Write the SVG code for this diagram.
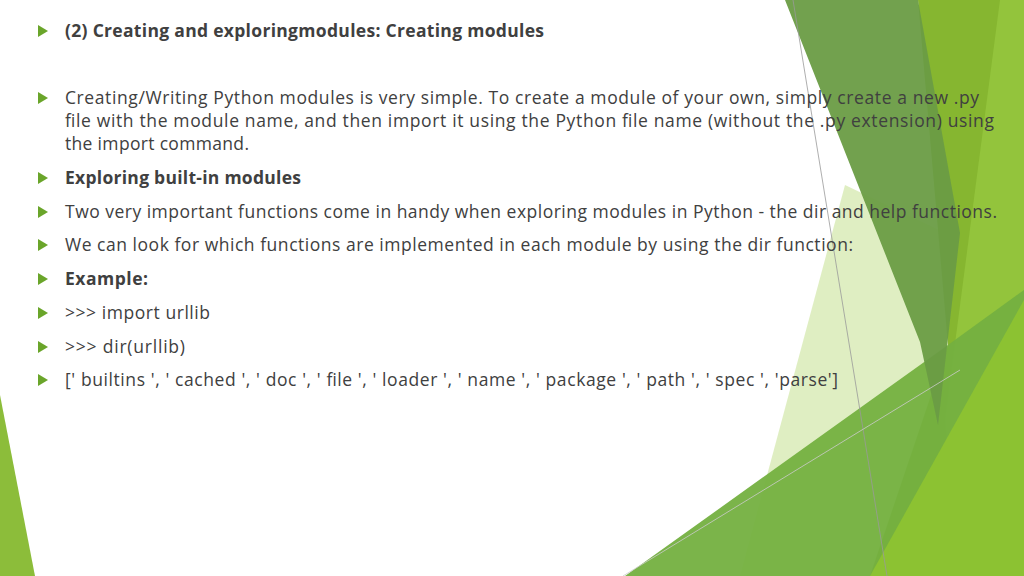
<svg xmlns="http://www.w3.org/2000/svg" width="1024" height="576" viewBox="0 0 1024 576">
<style>
.t{font-family:"Open Sans","DejaVu Sans",sans-serif;font-size:17.5px;fill:#404040}
.b{font-weight:bold}
.bul{fill:#6aa52a}
</style>
<defs><polygon id="tri" points="0,-6 10,0 0,6"/></defs>
<rect width="1024" height="576" fill="#fff"/>
<g id="decor">
<polygon points="0,395 35,576 0,576" fill="#8cbd3a"/>
<polygon points="845,185 960,240 948,345 880,576 740,576" fill="#c9e39a" opacity="0.6"/>
<polygon points="918,0 1024,0 1024,576 870,576 948,345" fill="#86b630"/>
<polygon points="1000,0 1024,0 1024,576 960,576 945,420" fill="#93c43c"/>
<polygon points="625,576 948,345 1024,290 1024,576" fill="#74b040" opacity="0.95"/>
<polygon points="870,576 1024,300 1024,576" fill="#8cc232"/>
<polygon points="785,0 918,0 960,233 938,425 920,342" fill="#6a9c44" opacity="0.95"/>
<line x1="793" y1="0" x2="887" y2="576" stroke="#999" stroke-width="0.8"/>
<line x1="623" y1="576" x2="960" y2="370" stroke="#ccc" stroke-width="0.8"/>
</g>
<g id="content">
<use href="#tri" x="38" y="31" class="bul"/>
<text class="t b" x="65" y="37" textLength="479">(2) Creating and exploringmodules: Creating modules</text>
<use href="#tri" x="38" y="98" class="bul"/>
<text class="t" x="65" y="104" textLength="914">Creating/Writing Python modules is very simple. To create a module of your own, simply create a new .py</text>
<text class="t" x="65" y="127" textLength="929">file with the module name, and then import it using the Python file name (without the .py extension) using</text>
<text class="t" x="65" y="150" textLength="184">the import command.</text>
<use href="#tri" x="38" y="178" class="bul"/>
<text class="t b" x="65" y="184" textLength="236">Exploring built-in modules</text>
<use href="#tri" x="38" y="212" class="bul"/>
<text class="t" x="65" y="218" textLength="932">Two very important functions come in handy when exploring modules in Python - the dir and help functions.</text>
<use href="#tri" x="38" y="245" class="bul"/>
<text class="t" x="65" y="251" textLength="788">We can look for which functions are implemented in each module by using the dir function:</text>
<use href="#tri" x="38" y="279" class="bul"/>
<text class="t b" x="65" y="285" textLength="83">Example:</text>
<use href="#tri" x="38" y="313" class="bul"/>
<text class="t" x="65" y="319" textLength="145">&gt;&gt;&gt; import urllib</text>
<use href="#tri" x="38" y="347" class="bul"/>
<text class="t" x="65" y="353" textLength="120">&gt;&gt;&gt; dir(urllib)</text>
<use href="#tri" x="38" y="380" class="bul"/>
<text class="t" x="65" y="386" textLength="773">[' builtins ', ' cached ', ' doc ', ' file ', ' loader ', ' name ', ' package ', ' path ', ' spec ', 'parse']</text>
</g>
</svg>
